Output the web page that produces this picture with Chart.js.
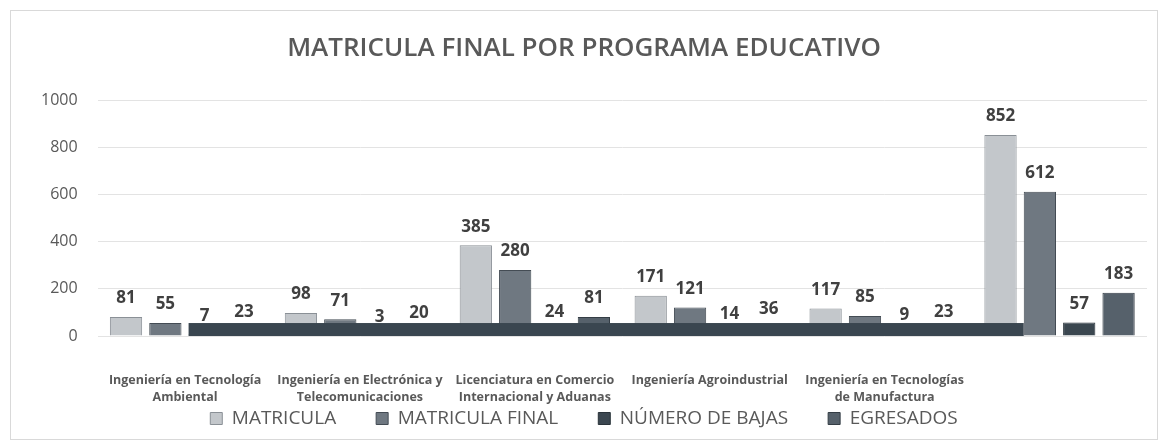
<!DOCTYPE html>
<html>
<head>
<meta charset="utf-8">
<script src="https://cdn.jsdelivr.net/npm/chart.js@4/dist/chart.umd.min.js"></script>
<style>
  body { margin: 0; background: #fff; }
  #box { position: absolute; left: 10px; top: 10px; width: 1146px; height: 428px; border: 1px solid #d9d9d9; }
</style>
</head>
<body>
<div id="box"><canvas id="chart"></canvas></div>
<script>
const programas = [
    ["Ingeniería en Tecnología", "Ambiental"],
    ["Ingeniería en Electrónica y", "Telecomunicaciones"],
    ["Licenciatura en Comercio", "Internacional y Aduanas"],
    ["Ingeniería Agroindustrial"],
    ["Ingeniería en Tecnologías", "de Manufactura"],
    ""
];
const matricula = [81, 98, 385, 171, 117, 852];
const matriculaFinal = [55, 71, 280, 121, 85, 612];
const bajas = [7, 3, 24, 14, 9, 57];
const egresados = [23, 20, 81, 36, 23, 183];
const yTicks = [0, 200, 400, 600, 800, 1000];

const fontName = "'Open Sans', 'Liberation Sans', sans-serif";

// etiquetas encima de cada barra
const valueLabels = {
    id: "valueLabels",
    afterDatasetsDraw(chart) {
        const ctx = chart.ctx;
        ctx.save();
        ctx.font = "bold 17px " + fontName;
        ctx.fillStyle = "#404040";
        ctx.textAlign = "center";
        ctx.textBaseline = "bottom";
        chart.data.datasets.forEach((ds, i) => {
            chart.getDatasetMeta(i).data.forEach((bar, j) => {
                ctx.fillText(ds.data[j], bar.x, bar.y - 10);
            });
        });
        ctx.restore();
    }
};

// franja oscura del piso (artefacto del 3D original)
const floorBand = {
    id: "floorBand",
    afterDatasetsDraw(chart) {
        const y = chart.scales.y;
        const start = chart.getDatasetMeta(2).data[0];
        const end = chart.getDatasetMeta(1).data[5];
        const ctx = chart.ctx;
        ctx.save();
        ctx.fillStyle = "#3a4650";
        const x0 = start.x - start.width / 2;
        const x1 = end.x - end.width / 2;
        ctx.fillRect(x0, y.getPixelForValue(55), x1 - x0, y.getPixelForValue(0) - y.getPixelForValue(55));
        ctx.restore();
    }
};

new Chart(document.getElementById("chart"), {
    type: "bar",
    data: {
        labels: programas,
        datasets: [
            { label: "MATRICULA", data: matricula, backgroundColor: "#c3c7cb", borderColor: "#8a9096", borderWidth: 1 },
            { label: "MATRICULA FINAL", data: matriculaFinal, backgroundColor: "#6f7881", borderColor: "#444c54", borderWidth: 1 },
            { label: "NÚMERO DE BAJAS", data: bajas, backgroundColor: "#3b4750", borderColor: "#2a333a", borderWidth: 1 },
            { label: "EGRESADOS", data: egresados, backgroundColor: "#56616b", borderColor: "#343d45", borderWidth: 1 }
        ]
    },
    options: {
        responsive: true,
        maintainAspectRatio: false,
        animation: false,
        layout: { padding: { left: 10, right: 10, top: 8, bottom: 1 } },
        datasets: { bar: { categoryPercentage: 0.9, barPercentage: 0.82 } },
        plugins: {
            title: {
                display: true,
                text: "MATRICULA FINAL POR PROGRAMA EDUCATIVO",
                color: "#595959",
                font: { family: fontName, size: 26, weight: "600" },
                padding: { top: 14, bottom: 36 }
            },
            legend: {
                position: "bottom",
                labels: {
                    color: "#595959",
                    font: { family: fontName, size: 19 },
                    boxWidth: 12,
                    boxHeight: 12,
                    padding: 2,
                    generateLabels(chart) {
                        const items = Chart.defaults.plugins.legend.labels.generateLabels(chart);
                        items.forEach((it, i) => {
                            if (i < items.length - 1) it.text = it.text + "\u2003\u2003";
                        });
                        return items;
                    }
                }
            },
            tooltip: { enabled: false }
        },
        scales: {
            x: {
                grid: { display: false },
                border: { display: false },
                afterFit(axis) { axis.height = 71; },
                ticks: {
                    color: "#595959",
                    font: { family: fontName, size: 12.5, weight: "bold", lineHeight: 1.35 },
                    padding: 28,
                    maxRotation: 0,
                    autoSkip: false
                }
            },
            y: {
                min: 0,
                max: 1000,
                afterBuildTicks(axis) { axis.ticks = yTicks.map(v => ({ value: v })); },
                grid: { color: "#e3e3e3", drawTicks: false },
                border: { display: false },
                ticks: {
                    color: "#595959",
                    font: { family: fontName, size: 16 },
                    padding: 20,
                    callback: v => String(v)
                }
            }
        }
    },
    plugins: [floorBand, valueLabels]
});
</script>
</body>
</html>
